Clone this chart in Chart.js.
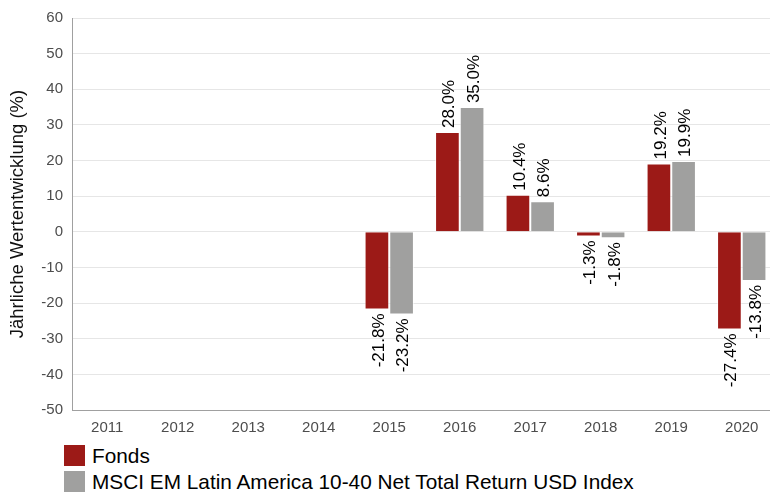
<!DOCTYPE html>
<html>
<head>
<meta charset="utf-8">
<script src="https://cdn.jsdelivr.net/npm/chart.js@4/dist/chart.umd.min.js"></script>
<style>
    html, body { margin: 0; padding: 0; background: #fff; overflow: hidden; }
    #wrap { position: absolute; left: 0; top: 0; width: 777px; height: 440px; }
    #legend { position: absolute; left: 64px; top: 445px; font-family: "Liberation Sans", Arial, sans-serif; font-size: 20.8px; color: #000; }
    .item { position: relative; height: 26px; line-height: 21px; padding-left: 28px; white-space: nowrap; }
    .box { position: absolute; left: 0; top: 0; width: 21px; height: 21px; }
</style>
</head>
<body>
<div id="wrap"><canvas id="myChart"></canvas></div>
<div id="legend"></div>

<script>
// Jährliche Wertentwicklung - Fonds vs. Index

var years = ["2011", "2012", "2013", "2014", "2015", "2016", "2017", "2018", "2019", "2020"];
var fonds = [null, null, null, null, -21.8, 28.0, 10.4, -1.3, 19.2, -27.4];
var index = [null, null, null, null, -23.2, 35.0, 8.6, -1.8, 19.9, -13.8];
var seriesNames = ["Fonds", "MSCI EM Latin America 10-40 Net Total Return USD Index"];
var yMin = -50;
var yMax = 60;
var yStep = 10;

var fontName = "'Liberation Sans', Arial, sans-serif";

// prozentwerte gedreht an die balken schreiben
var barLabels = {
    id: "barLabels",
    afterDatasetsDraw: function (chart) {
        var ctx = chart.ctx;
        ctx.save();
        ctx.fillStyle = "#000";
        ctx.font = "17px " + fontName;
        ctx.textBaseline = "middle";
        chart.data.datasets.forEach(function (ds, d) {
            var meta = chart.getDatasetMeta(d);
            meta.data.forEach(function (bar, i) {
                var v = ds.data[i];
                if (v === null) return;
                ctx.save();
                ctx.translate(bar.x, bar.y);
                ctx.rotate(-Math.PI / 2);
                if (v >= 0) {
                    ctx.textAlign = "left";
                    ctx.fillText(v.toFixed(1) + "%", 4, 2);
                } else {
                    ctx.textAlign = "right";
                    ctx.fillText(v.toFixed(1) + "%", -4, 2);
                }
                ctx.restore();
            });
        });
        ctx.restore();
    }
};

window.onload = function () {

    var ctx = document.getElementById("myChart").getContext("2d");

    var chartData = {
        labels: years,
        datasets: [
            {
                label: seriesNames[0],
                backgroundColor: "#9c1a17",
                borderColor: "rgba(255,255,255,0.6)",
                borderWidth: 1,
                data: fonds
            },
            {
                label: seriesNames[1],
                backgroundColor: "#a0a09f",
                borderColor: "rgba(255,255,255,0.6)",
                borderWidth: 1,
                data: index
            }
        ]
    };

    var myChart = new Chart(ctx, {
        type: "bar",
        data: chartData,
        plugins: [barLabels],
        options: {
            responsive: true,
            maintainAspectRatio: false,
            animation: false,
            layout: { padding: { top: 17, left: 0, right: 0, bottom: 0 } },
            plugins: {
                legend: { display: false },
                tooltip: { enabled: false }
            },
            datasets: {
                bar: { categoryPercentage: 0.7, barPercentage: 1.0 }
            },
            scales: {
                x: {
                    grid: { display: false },
                    border: { display: true, color: "#a0a0a0" },
                    ticks: { color: "#4d4d4d", font: { family: fontName, size: 15 }, padding: 1, maxRotation: 0 },
                    afterFit: function (scale) { scale.height = 30; }
                },
                y: {
                    min: yMin,
                    max: yMax,
                    ticks: { stepSize: yStep, color: "#4d4d4d", font: { family: fontName, size: 15 }, padding: 9 },
                    grid: { color: "#e6e6e6", drawTicks: false },
                    border: { display: true, color: "#a0a0a0" },
                    title: {
                        display: true,
                        text: "Jährliche Wertentwicklung (%)",
                        color: "#111",
                        font: { family: fontName, size: 18.5 },
                        padding: { top: 7, bottom: 0 }
                    },
                    afterFit: function (scale) { scale.width = 72; }
                }
            }
        }
    });

    // legende untereinander
    var legend = document.getElementById("legend");
    chartData.datasets.forEach(function (ds) {
        var item = document.createElement("div");
        item.className = "item";
        var box = document.createElement("span");
        box.className = "box";
        box.style.background = ds.backgroundColor;
        item.appendChild(box);
        item.appendChild(document.createTextNode(ds.label));
        legend.appendChild(item);
    });
};
</script>
</body>
</html>
